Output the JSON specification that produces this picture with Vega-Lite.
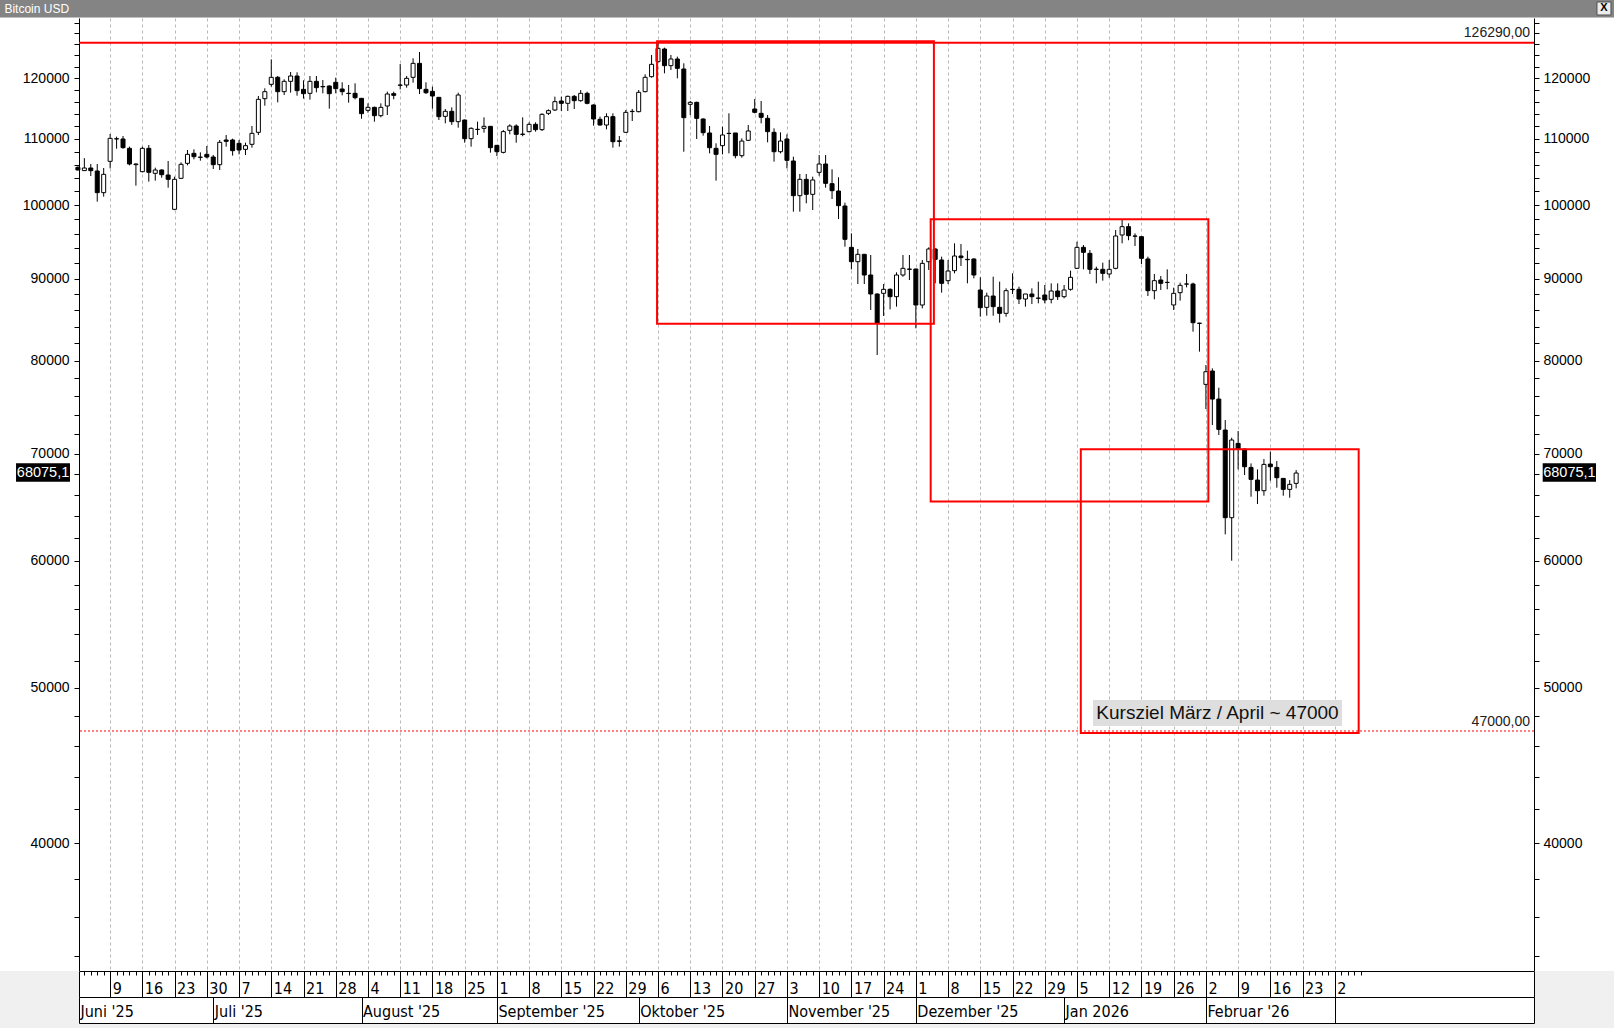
{
"$schema": "https://vega.github.io/schema/vega-lite/v6.json",
"width": 1455, "height": 953,
"autosize": "none",
"padding": {"left": 79, "top": 18, "right": 80, "bottom": 57},
"background": "white",
"config": {"view": {"stroke": null}, "font": "Liberation Sans"},
"data": {"values": [{}]},
"datasets": {
"ohlc": [
{"i":0,"o":105600,"h":105750,"l":105150,"c":105190},
{"i":1,"o":105100,"h":107000,"l":105093,"c":105494},
{"i":2,"o":105494,"h":106103,"l":104291,"c":105093},
{"i":3,"o":105043,"h":106103,"l":100517,"c":101826},
{"i":4,"o":101826,"h":105494,"l":101241,"c":104541},
{"i":5,"o":106511,"h":110775,"l":105444,"c":110088},
{"i":6,"o":109983,"h":110352,"l":108466,"c":110035},
{"i":7,"o":109983,"h":110457,"l":108466,"c":108622},
{"i":8,"o":108518,"h":108778,"l":105900,"c":106103},
{"i":9,"o":106002,"h":106205,"l":102855,"c":106100},
{"i":10,"o":104942,"h":108778,"l":104841,"c":108518},
{"i":11,"o":108518,"h":109038,"l":103447,"c":104841},
{"i":12,"o":104690,"h":105545,"l":103596,"c":105193},
{"i":13,"o":105193,"h":105293,"l":104042,"c":104490},
{"i":14,"o":104440,"h":106562,"l":102560,"c":103794},
{"i":15,"o":99416,"h":104192,"l":99300,"c":103794},
{"i":16,"o":103942,"h":106358,"l":103900,"c":106053},
{"i":17,"o":106205,"h":108258,"l":105900,"c":107586},
{"i":18,"o":107742,"h":108362,"l":106817,"c":107227},
{"i":19,"o":107124,"h":107896,"l":106612,"c":107150},
{"i":20,"o":107586,"h":108883,"l":106970,"c":107175},
{"i":21,"o":107175,"h":107484,"l":105344,"c":106002},
{"i":22,"o":106002,"h":109825,"l":105193,"c":109458},
{"i":23,"o":109825,"h":110616,"l":108778,"c":109614},
{"i":24,"o":109825,"h":110035,"l":107381,"c":108155},
{"i":25,"o":109300,"h":109825,"l":107586,"c":108258},
{"i":26,"o":108362,"h":109404,"l":107484,"c":108934},
{"i":27,"o":109143,"h":112054,"l":108622,"c":110880},
{"i":28,"o":111040,"h":116989,"l":110616,"c":116430},
{"i":29,"o":116541,"h":118284,"l":115374,"c":117719},
{"i":30,"o":118965,"h":123312,"l":118567,"c":120168},
{"i":31,"o":120168,"h":120397,"l":115929,"c":117719},
{"i":32,"o":117719,"h":119822,"l":117156,"c":119479},
{"i":33,"o":119479,"h":121090,"l":117550,"c":120397},
{"i":34,"o":120397,"h":121033,"l":117044,"c":117888},
{"i":35,"o":118113,"h":119650,"l":116541,"c":117380},
{"i":36,"o":117436,"h":120397,"l":116374,"c":119479},
{"i":37,"o":119479,"h":120397,"l":117606,"c":118396},
{"i":38,"o":118600,"h":119707,"l":117436,"c":118540},
{"i":39,"o":118681,"h":118794,"l":114880,"c":117380},
{"i":40,"o":119308,"h":120110,"l":117436,"c":118227},
{"i":41,"o":118170,"h":119308,"l":117100,"c":117719},
{"i":42,"o":117440,"h":118851,"l":115873,"c":117400},
{"i":43,"o":117436,"h":119135,"l":116430,"c":116708},
{"i":44,"o":116597,"h":116650,"l":113241,"c":114057},
{"i":45,"o":114606,"h":115762,"l":114224,"c":115100},
{"i":46,"o":115100,"h":115210,"l":112754,"c":113731},
{"i":47,"o":113731,"h":115762,"l":113459,"c":115100},
{"i":48,"o":115320,"h":117719,"l":113839,"c":117324},
{"i":49,"o":117380,"h":117719,"l":116430,"c":117100},
{"i":50,"o":118800,"h":122490,"l":118113,"c":118851},
{"i":51,"o":118851,"h":120397,"l":118396,"c":119994},
{"i":52,"o":120168,"h":123490,"l":119251,"c":122606},
{"i":53,"o":122606,"h":124620,"l":117324,"c":118227},
{"i":54,"o":118113,"h":119308,"l":117324,"c":117550},
{"i":55,"o":117775,"h":118567,"l":114880,"c":116989},
{"i":56,"o":116764,"h":116800,"l":113024,"c":113567},
{"i":57,"o":113622,"h":114825,"l":112484,"c":114442},
{"i":58,"o":114442,"h":115100,"l":112216,"c":112754},
{"i":59,"o":112754,"h":117550,"l":111786,"c":117156},
{"i":60,"o":113024,"h":113100,"l":109404,"c":110035},
{"i":61,"o":110035,"h":111840,"l":108778,"c":111680},
{"i":62,"o":111500,"h":112754,"l":110616,"c":111520},
{"i":63,"o":111680,"h":113459,"l":110988,"c":112000},
{"i":64,"o":112000,"h":112050,"l":107845,"c":108622},
{"i":65,"o":108986,"h":109000,"l":107330,"c":108000},
{"i":66,"o":107891,"h":111415,"l":107738,"c":111149},
{"i":67,"o":111362,"h":112324,"l":110724,"c":112056},
{"i":68,"o":112056,"h":112324,"l":109397,"c":110724},
{"i":69,"o":110700,"h":113459,"l":110418,"c":110760},
{"i":70,"o":111149,"h":112646,"l":111042,"c":112324},
{"i":71,"o":112324,"h":112646,"l":111149,"c":111469},
{"i":72,"o":111469,"h":114112,"l":111256,"c":113949},
{"i":73,"o":114112,"h":114768,"l":113840,"c":114549},
{"i":74,"o":114658,"h":116877,"l":114494,"c":116041},
{"i":75,"o":116152,"h":116877,"l":114494,"c":115764},
{"i":76,"o":115764,"h":117044,"l":114494,"c":116932},
{"i":77,"o":116932,"h":117156,"l":114823,"c":116207},
{"i":78,"o":116207,"h":118000,"l":116041,"c":117437},
{"i":79,"o":117437,"h":117718,"l":115598,"c":115764},
{"i":80,"o":115487,"h":115598,"l":112110,"c":113188},
{"i":81,"o":113134,"h":113567,"l":112110,"c":112217},
{"i":82,"o":112217,"h":114112,"l":111522,"c":113567},
{"i":83,"o":113567,"h":114112,"l":108614,"c":109554},
{"i":84,"o":109600,"h":110459,"l":108771,"c":109700},
{"i":85,"o":111042,"h":114658,"l":110989,"c":114276},
{"i":86,"o":114400,"h":114823,"l":112862,"c":114440},
{"i":87,"o":114385,"h":118000,"l":114276,"c":117605},
{"i":88,"o":117718,"h":120686,"l":117605,"c":120167},
{"i":89,"o":120283,"h":124084,"l":120110,"c":122430},
{"i":90,"o":122900,"h":126290,"l":122850,"c":125277},
{"i":91,"o":125157,"h":125397,"l":120860,"c":122196},
{"i":92,"o":122196,"h":124084,"l":121440,"c":123375},
{"i":93,"o":123375,"h":123789,"l":119995,"c":121730},
{"i":94,"o":121614,"h":122606,"l":107994,"c":113405},
{"i":95,"o":115598,"h":116152,"l":113840,"c":115930},
{"i":96,"o":115930,"h":116041,"l":109983,"c":113296},
{"i":97,"o":113188,"h":113296,"l":110511,"c":110989},
{"i":98,"o":110936,"h":112056,"l":107738,"c":108614},
{"i":99,"o":108518,"h":109302,"l":103595,"c":107587},
{"i":100,"o":108937,"h":111950,"l":107587,"c":110617},
{"i":101,"o":110850,"h":114112,"l":107738,"c":110883},
{"i":102,"o":110936,"h":110950,"l":106971,"c":107381},
{"i":103,"o":107381,"h":110088,"l":107073,"c":109659},
{"i":104,"o":109773,"h":112217,"l":109659,"c":111256},
{"i":105,"o":114823,"h":116485,"l":114112,"c":114276},
{"i":106,"o":114112,"h":116152,"l":112485,"c":113459},
{"i":107,"o":113296,"h":113840,"l":109459,"c":111149},
{"i":108,"o":111042,"h":111682,"l":106460,"c":107994},
{"i":109,"o":107994,"h":111042,"l":107738,"c":109659},
{"i":110,"o":109983,"h":110724,"l":105446,"c":106664},
{"i":111,"o":106562,"h":107227,"l":99083,"c":101387},
{"i":112,"o":101386,"h":104591,"l":99083,"c":103793},
{"i":113,"o":103793,"h":104591,"l":100276,"c":101580},
{"i":114,"o":101580,"h":104192,"l":99320,"c":103694},
{"i":115,"o":104841,"h":107483,"l":104342,"c":106103},
{"i":116,"o":106103,"h":107483,"l":102557,"c":103197},
{"i":117,"o":103148,"h":105295,"l":100902,"c":102116},
{"i":118,"o":102067,"h":104092,"l":98044,"c":99940},
{"i":119,"o":99893,"h":100372,"l":94226,"c":95223},
{"i":120,"o":94136,"h":96047,"l":91206,"c":92217},
{"i":121,"o":92217,"h":93911,"l":89306,"c":93193},
{"i":122,"o":93193,"h":93250,"l":89306,"c":90467},
{"i":123,"o":90467,"h":93104,"l":86033,"c":88033},
{"i":124,"o":88033,"h":88117,"l":80652,"c":84401},
{"i":125,"o":88117,"h":89306,"l":85298,"c":88625},
{"i":126,"o":88625,"h":88752,"l":86115,"c":87697},
{"i":127,"o":87697,"h":90814,"l":86446,"c":90467},
{"i":128,"o":90467,"h":93104,"l":90251,"c":91338},
{"i":129,"o":91200,"h":93104,"l":89820,"c":91250},
{"i":130,"o":91250,"h":91300,"l":83798,"c":86654},
{"i":131,"o":86654,"h":92439,"l":86239,"c":91996},
{"i":132,"o":92217,"h":94136,"l":91119,"c":93911},
{"i":133,"o":93911,"h":94001,"l":89392,"c":92527},
{"i":134,"o":92439,"h":92883,"l":88202,"c":89392},
{"i":135,"o":89735,"h":92439,"l":89307,"c":90990},
{"i":136,"o":91034,"h":94677,"l":90686,"c":92971},
{"i":137,"o":92971,"h":94587,"l":91645,"c":92750},
{"i":138,"o":92527,"h":93685,"l":89392,"c":92480},
{"i":139,"o":92572,"h":92660,"l":90037,"c":90468},
{"i":140,"o":88540,"h":90166,"l":85213,"c":86322},
{"i":141,"o":86363,"h":88202,"l":85335,"c":87780},
{"i":142,"o":87780,"h":90252,"l":85335,"c":86447},
{"i":143,"o":86363,"h":89607,"l":84481,"c":85622},
{"i":144,"o":85622,"h":88753,"l":85213,"c":88456},
{"i":145,"o":88600,"h":90686,"l":88033,"c":88626},
{"i":146,"o":88626,"h":88966,"l":86778,"c":87403},
{"i":147,"o":87403,"h":88050,"l":86447,"c":88033},
{"i":148,"o":88033,"h":88753,"l":86778,"c":87696},
{"i":149,"o":87487,"h":89607,"l":86861,"c":87520},
{"i":150,"o":87906,"h":89179,"l":86861,"c":87279},
{"i":151,"o":87362,"h":89392,"l":86861,"c":88413},
{"i":152,"o":88413,"h":89392,"l":87279,"c":87696},
{"i":153,"o":87696,"h":89179,"l":87487,"c":88540},
{"i":154,"o":88626,"h":91034,"l":88456,"c":90166},
{"i":155,"o":91340,"h":94904,"l":91253,"c":94134},
{"i":156,"o":94137,"h":94451,"l":91208,"c":93463},
{"i":157,"o":93327,"h":93776,"l":90599,"c":91208},
{"i":158,"o":91200,"h":91557,"l":89392,"c":91230},
{"i":159,"o":91208,"h":92084,"l":89736,"c":90685},
{"i":160,"o":90599,"h":92439,"l":90123,"c":91208},
{"i":161,"o":91338,"h":96508,"l":91208,"c":95679},
{"i":162,"o":95817,"h":97904,"l":94678,"c":96971},
{"i":163,"o":96971,"h":97437,"l":95100,"c":95726},
{"i":164,"o":95650,"h":96046,"l":94316,"c":95680},
{"i":165,"o":95587,"h":95600,"l":91909,"c":92661},
{"i":166,"o":92572,"h":92883,"l":87781,"c":88455},
{"i":167,"o":88455,"h":90599,"l":87362,"c":89736},
{"i":168,"o":89821,"h":90338,"l":88541,"c":89392},
{"i":169,"o":89500,"h":91208,"l":88625,"c":89521},
{"i":170,"o":86657,"h":88837,"l":86033,"c":88118},
{"i":171,"o":88202,"h":89477,"l":87195,"c":89135},
{"i":172,"o":89300,"h":90599,"l":88880,"c":89306},
{"i":173,"o":89306,"h":89477,"l":83397,"c":84477},
{"i":174,"o":84395,"h":84477,"l":81037,"c":84420},
{"i":175,"o":77320,"h":79495,"l":74628,"c":78738},
{"i":176,"o":78814,"h":79116,"l":72932,"c":75706},
{"i":177,"o":75706,"h":76950,"l":71893,"c":72480},
{"i":178,"o":72411,"h":73457,"l":62335,"c":63845},
{"i":179,"o":63845,"h":71618,"l":60022,"c":71379},
{"i":180,"o":71037,"h":72308,"l":68431,"c":70461},
{"i":181,"o":70461,"h":70500,"l":67876,"c":68693},
{"i":182,"o":68627,"h":69023,"l":65799,"c":67455},
{"i":183,"o":67392,"h":68431,"l":65111,"c":66369},
{"i":184,"o":66369,"h":69454,"l":65894,"c":68924},
{"i":185,"o":68957,"h":70191,"l":67327,"c":68693},
{"i":186,"o":68627,"h":69254,"l":66656,"c":67617},
{"i":187,"o":67552,"h":67560,"l":65894,"c":66497},
{"i":188,"o":66497,"h":67392,"l":65706,"c":66974},
{"i":189,"o":67070,"h":68365,"l":66592,"c":68075.1}
],
"boxes": [
{"x1":89.85,"x2":132.8,"y1":126550,"y2":84350},
{"x1":132.3,"x2":175.38,"y1":98020,"y2":65345},
{"x1":155.59,"x2":198.7,"y1":70434,"y2":46872}
]
},
"layer": [
{"mark": {"type": "rect", "fill": "#f0f0f0"},
 "encoding": {"x": {"datum": -12.3, "type": "quantitative", "axis": null}, "x2": {"datum": 238.5}, "y": {"datum": 33297, "type": "quantitative", "axis": null}, "y2": {"datum": 30500}}},
{"mark": {"type": "rect", "fill": "white"},
 "encoding": {"x": {"datum": 0.17, "type": "quantitative", "axis": null}, "x2": {"datum": 225.9}, "y": {"datum": 33297, "type": "quantitative", "axis": null}, "y2": {"datum": 30886}}},
{"mark": {"type": "rect", "fill": "#848484"},
 "encoding": {"x": {"datum": -12.3, "type": "quantitative", "axis": null}, "x2": {"datum": 238.5}, "y": {"datum": 134500, "type": "quantitative", "axis": null}, "y2": {"datum": 130960}}},
{"mark": {"type": "text", "text": "Bitcoin USD", "align": "left", "baseline": "alphabetic", "fill": "white", "fontSize": 12, "font": "Liberation Sans"},
 "encoding": {"x": {"datum": -11.4, "type": "quantitative", "axis": null}, "y": {"datum": 131798, "type": "quantitative", "axis": null}}},
{"mark": {"type": "rect", "fill": "#ececec", "stroke": "#505050", "strokeWidth": 1},
 "encoding": {"x": {"datum": 235.67, "type": "quantitative", "axis": null}, "x2": {"datum": 237.84}, "y": {"datum": 133897, "type": "quantitative", "axis": null}, "y2": {"datum": 131421}}},
{"mark": {"type": "text", "text": "X", "align": "center", "baseline": "middle", "fill": "black", "fontSize": 11, "fontWeight": "bold", "font": "Liberation Sans"},
 "encoding": {"x": {"datum": 236.75, "type": "quantitative", "axis": null}, "y": {"datum": 132653, "type": "quantitative", "axis": null}}},
{"data": {"name": "ohlc"},
 "mark": {"type": "rule", "color": "black", "strokeWidth": 1},
 "encoding": {
  "x": {"field": "i", "type": "quantitative", "scale": {"domain": [0.17, 225.9], "nice": false, "zero": false, "padding": 0},
        "axis": {"orient": "bottom", "title": null, "values": [5,10,15,20,25,30,35,40,45,50,55,60,65,70,75,80,85,90,95,100,105,110,115,120,125,130,135,140,145,150,155,160,165,170,175,180,185,190,195], "grid": true, "gridColor": "#b8b8b8", "gridDash": [3,3], "gridWidth": 1, "ticks": false, "labels": false, "domain": false, "zindex": 0}},
  "y": {"field": "l", "type": "quantitative", "scale": {"type": "log", "domain": [33297, 130855], "nice": false, "padding": 0},
        "axis": {"orient": "left", "title": null, "grid": false, "values": [34000,36000,38000,40000,42000,44000,46000,48000,50000,52000,54000,56000,58000,60000,62000,64000,66000,68000,70000,72000,74000,76000,78000,80000,82000,84000,86000,88000,90000,92000,94000,96000,98000,100000,102000,104000,106000,108000,110000,112000,114000,116000,118000,120000,122000,124000,126000,128000,130000],
                 "labelExpr": "datum.value % 10000 == 0 && datum.value < 125000 ? format(datum.value, 'd') : ''", "labelOverlap": false, "labelBound": false, "labelFlush": false,
                 "tickSize": 5, "tickColor": "black", "domainColor": "black", "labelColor": "black", "labelFontSize": 14, "labelFont": "Liberation Sans", "labelPadding": 5, "labelBaseline": "middle"}},
  "y2": {"field": "h"}}},
{"data": {"name": "ohlc"},
 "mark": {"type": "bar", "width": 4, "stroke": "black", "strokeWidth": 1},
 "encoding": {
  "x": {"field": "i", "type": "quantitative",
        "axis": {"orient": "bottom", "title": null, "values": [0,1,2,3,4,5,6,7,8,9,10,11,12,13,14,15,16,17,18,19,20,21,22,23,24,25,26,27,28,29,30,31,32,33,34,35,36,37,38,39,40,41,42,43,44,45,46,47,48,49,50,51,52,53,54,55,56,57,58,59,60,61,62,63,64,65,66,67,68,69,70,71,72,73,74,75,76,77,78,79,80,81,82,83,84,85,86,87,88,89,90,91,92,93,94,95,96,97,98,99,100,101,102,103,104,105,106,107,108,109,110,111,112,113,114,115,116,117,118,119,120,121,122,123,124,125,126,127,128,129,130,131,132,133,134,135,136,137,138,139,140,141,142,143,144,145,146,147,148,149,150,151,152,153,154,155,156,157,158,159,160,161,162,163,164,165,166,167,168,169,170,171,172,173,174,175,176,177,178,179,180,181,182,183,184,185,186,187,188,189,190,191,192,193,194,195,196,197,198,199],
                 "grid": false, "ticks": true, "tickSize": 4, "tickColor": "black", "labels": false, "domain": false, "zindex": 1}},
  "y": {"field": "o", "type": "quantitative",
        "axis": {"orient": "right", "title": null, "grid": false, "values": [34000,36000,38000,40000,42000,44000,46000,48000,50000,52000,54000,56000,58000,60000,62000,64000,66000,68000,70000,72000,74000,76000,78000,80000,82000,84000,86000,88000,90000,92000,94000,96000,98000,100000,102000,104000,106000,108000,110000,112000,114000,116000,118000,120000,122000,124000,126000,128000,130000],
                 "labelExpr": "datum.value % 10000 == 0 && datum.value < 125000 ? format(datum.value, 'd') : ''", "labelOverlap": false, "labelBound": false, "labelFlush": false,
                 "tickSize": 5, "tickColor": "black", "domainColor": "black", "labelColor": "black", "labelFontSize": 14, "labelFont": "Liberation Sans", "labelPadding": 4, "labelBaseline": "middle"}},
  "y2": {"field": "c"},
  "fill": {"condition": {"test": "datum.c >= datum.o", "value": "white"}, "value": "black"}}},
{"data": {"name": "boxes"},
 "mark": {"type": "point", "opacity": 0},
 "encoding": {
  "x": {"field": "x1", "type": "quantitative",
        "axis": {"orient": "bottom", "offset": 0, "title": null, "grid": false, "values": [0.17,5,10,15,20,25,30,35,40,45,50,55,60,65,70,75,80,85,90,95,100,105,110,115,120,125,130,135,140,145,150,155,160,165,170,175,180,185,190,195,225.9],
                 "tickSize": 26, "tickColor": "black", "domain": true, "domainColor": "black",
                 "labelExpr": "datum.value < 1 || datum.value > 199 ? '' : ['9','16','23','30','7','14','21','28','4','11','18','25','1','8','15','22','29','6','13','20','27','3','10','17','24','1','8','15','22','29','5','12','19','26','2','9','16','23','2'][round(datum.value/5)-1]",
                 "labelAlign": "left", "labelBaseline": "alphabetic", "labelPadding": -3.5, "labelOffset": 2, "labelFontSize": 16, "labelFont": "Liberation Sans Narrow, Arial Narrow, DejaVu Sans Condensed, sans-serif", "labelColor": "black", "labelFlush": false, "labelOverlap": false, "labelBound": false, "zindex": 1}},
  "y": {"field": "y1", "type": "quantitative", "axis": null}}},
{"data": {"name": "boxes"},
 "mark": {"type": "point", "opacity": 0},
 "encoding": {
  "x": {"field": "x1", "type": "quantitative",
        "axis": {"orient": "bottom", "offset": 26, "title": null, "grid": false, "values": [0.17,21,44,65,87,110,130,153,175,195,225.9],
                 "tickSize": 26, "tickColor": "black", "domain": true, "domainColor": "black",
                 "labelExpr": "datum.value < 10 ? \"Juni '25\" : datum.value < 30 ? \"Juli '25\" : datum.value < 50 ? \"August '25\" : datum.value < 70 ? \"September '25\" : datum.value < 90 ? \"Oktober '25\" : datum.value < 120 ? \"November '25\" : datum.value < 140 ? \"Dezember '25\" : datum.value < 160 ? \"Jan 2026\" : datum.value < 180 ? \"Februar '26\" : ''",
                 "labelAlign": "left", "labelBaseline": "alphabetic", "labelPadding": -6.5, "labelOffset": 1, "labelFontSize": 16, "labelFont": "Liberation Sans Narrow, Arial Narrow, DejaVu Sans Condensed, sans-serif", "labelColor": "black", "labelFlush": false, "labelOverlap": false, "labelBound": false, "zindex": 1}},
  "y": {"field": "y1", "type": "quantitative", "axis": null}}},
{"data": {"name": "boxes"},
 "mark": {"type": "point", "opacity": 0},
 "encoding": {
  "x": {"field": "x1", "type": "quantitative",
        "axis": {"orient": "bottom", "offset": 52, "title": null, "grid": false, "ticks": false, "labels": false, "domain": true, "domainColor": "black", "zindex": 1}},
  "y": {"field": "y1", "type": "quantitative", "axis": null}}},
{"mark": {"type": "rule", "color": "#ff0000", "strokeWidth": 2},
 "encoding": {"y": {"datum": 126290, "type": "quantitative", "axis": null}}},
{"mark": {"type": "rule", "color": "#ff0000", "strokeWidth": 1, "strokeDash": [2, 2]},
 "encoding": {"y": {"datum": 47000, "type": "quantitative", "axis": null}}},
{"data": {"name": "boxes"},
 "mark": {"type": "rect", "fill": "white", "fillOpacity": 0, "stroke": "#ff0000", "strokeWidth": 2},
 "encoding": {"x": {"field": "x1", "type": "quantitative", "axis": null}, "x2": {"field": "x2"}, "y": {"field": "y1", "type": "quantitative", "axis": null}, "y2": {"field": "y2"}}},
{"mark": {"type": "rect", "fill": "#dedede"},
 "encoding": {"x": {"datum": 157.48, "type": "quantitative", "axis": null}, "x2": {"datum": 196.11}, "y": {"datum": 49137, "type": "quantitative", "axis": null}, "y2": {"datum": 47335}}},
{"mark": {"type": "text", "text": "Kursziel März / April ~ 47000", "align": "center", "baseline": "middle", "fill": "#111111", "fontSize": 19, "font": "Liberation Sans"},
 "encoding": {"x": {"datum": 176.8, "type": "quantitative", "axis": null}, "y": {"datum": 48228, "type": "quantitative", "axis": null}}},
{"mark": {"type": "text", "text": "126290,00", "align": "right", "baseline": "alphabetic", "dx": -4, "dy": -6, "fill": "#202020", "fontSize": 14, "font": "Liberation Sans"},
 "encoding": {"x": {"datum": 225.9, "type": "quantitative", "axis": null}, "y": {"datum": 126290, "type": "quantitative", "axis": null}}},
{"mark": {"type": "text", "text": "47000,00", "align": "right", "baseline": "alphabetic", "dx": -4, "dy": -5, "fill": "#202020", "fontSize": 14, "font": "Liberation Sans"},
 "encoding": {"x": {"datum": 225.9, "type": "quantitative", "axis": null}, "y": {"datum": 47000, "type": "quantitative", "axis": null}}},
{"mark": {"type": "rect", "fill": "black"},
 "encoding": {"x": {"datum": -9.6, "type": "quantitative", "axis": null}, "x2": {"datum": -1.23}, "y": {"datum": 69031, "type": "quantitative", "axis": null}, "y2": {"datum": 67230}}},
{"mark": {"type": "rect", "fill": "black"},
 "encoding": {"x": {"datum": 227.25, "type": "quantitative", "axis": null}, "x2": {"datum": 235.52}, "y": {"datum": 69031, "type": "quantitative", "axis": null}, "y2": {"datum": 67230}}},
{"mark": {"type": "text", "text": "68075,1", "align": "center", "baseline": "middle", "fill": "white", "fontSize": 14.5, "font": "Liberation Sans"},
 "encoding": {"x": {"datum": -5.41, "type": "quantitative", "axis": null}, "y": {"datum": 68075.1, "type": "quantitative", "axis": null}}},
{"mark": {"type": "text", "text": "68075,1", "align": "center", "baseline": "middle", "fill": "white", "fontSize": 14.5, "font": "Liberation Sans"},
 "encoding": {"x": {"datum": 231.39, "type": "quantitative", "axis": null}, "y": {"datum": 68075.1, "type": "quantitative", "axis": null}}}
],
"resolve": {"axis": {"x": "independent", "y": "independent"}}
}
